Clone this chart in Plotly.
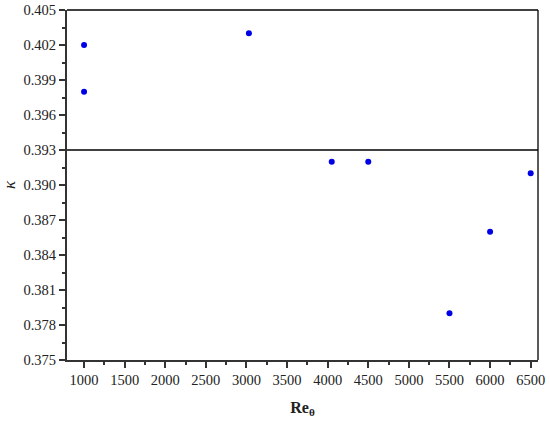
import plotly.graph_objects as go

re_theta = [1000, 1000, 3030, 4050, 4500, 5500, 6000, 6500]
kappa = [0.402, 0.398, 0.403, 0.392, 0.392, 0.379, 0.386, 0.391]
kappa_ref = 0.393

x_ticks = list(range(1000, 7000, 500))
y_ticks = [0.375, 0.378, 0.381, 0.384, 0.387, 0.390, 0.393, 0.396, 0.399, 0.402, 0.405]
y_labels = [f"{v:.3f}" for v in y_ticks]

font_family = "Liberation Serif, Times New Roman, serif"

fig = go.Figure()
fig.add_trace(go.Scatter(
    x=re_theta, y=kappa, mode="markers",
    marker=dict(color="#0000e6", size=6, line=dict(width=0)),
    showlegend=False, cliponaxis=False,
))

fig.add_shape(type="line", xref="paper", yref="y", x0=0, x1=1,
              y0=kappa_ref, y1=kappa_ref, line=dict(color="black", width=1.5))
# top and right frame
fig.add_shape(type="line", xref="paper", yref="paper", x0=0, x1=1, y0=1, y1=1,
              line=dict(color="black", width=1.3))
fig.add_shape(type="line", xref="paper", yref="paper", x0=1, x1=1, y0=0, y1=1,
              line=dict(color="black", width=1.3))

fig.update_layout(
    width=550, height=426,
    margin=dict(l=67, r=12, t=10, b=66, autoexpand=False),
    paper_bgcolor="white", plot_bgcolor="white",
    font=dict(family=font_family, size=14.5, color="#222"),
    xaxis=dict(
        range=[790, 6590], tickvals=x_ticks, ticktext=[str(v) for v in x_ticks],
        showgrid=False, zeroline=False, automargin=False,
        showline=True, linewidth=2, linecolor="#333",
        ticks="outside", ticklen=6, tickwidth=1.5, tickcolor="#333",
        minor=dict(tickvals=[v + 250 for v in x_ticks[:-1]],
                   ticks="outside", ticklen=3, tickwidth=1.5, tickcolor="#333", showgrid=False),
        tickfont=dict(family=font_family, size=14.5, color="#222"),
        title=dict(text="<b>Re<sub>θ</sub></b>", standoff=14,
                   font=dict(family=font_family, size=16, color="#222")),
    ),
    yaxis=dict(
        range=[0.375, 0.405], tickvals=y_ticks, ticktext=y_labels,
        showgrid=False, zeroline=False, automargin=False,
        showline=True, linewidth=2, linecolor="#333",
        ticks="outside", ticklen=6, tickwidth=1.5, tickcolor="#333",
        minor=dict(tickvals=[v + 0.0015 for v in y_ticks[:-1]],
                   ticks="outside", ticklen=3, tickwidth=1.5, tickcolor="#333", showgrid=False),
        tickfont=dict(family=font_family, size=14.5, color="#222"),
        title=dict(text="<i>κ</i>", standoff=9,
                   font=dict(family=font_family, size=17, color="#222")),
    ),
)

fig.write_html("out.html", config={"displayModeBar": False},
               post_script="document.body.style.margin='0';")
